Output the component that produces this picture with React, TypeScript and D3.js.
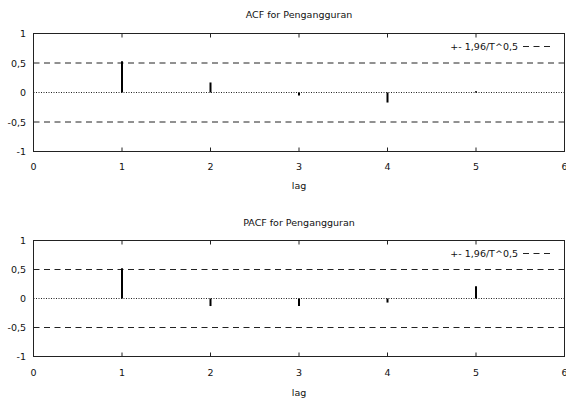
import React from 'react';
import * as d3 from 'd3';

const lags = [1, 2, 3, 4, 5];
const acfValues = [0.53, 0.17, -0.05, -0.17, 0.02];
const pacfValues = [0.52, -0.13, -0.13, -0.07, 0.21];
const xTicks = [0, 1, 2, 3, 4, 5, 6];
const yTicks = [1, 0.5, 0, -0.5, -1];
const band = 0.5;
const legendLabel = '+- 1,96/T^0,5';

const W = 566;
const H = 399;
const font = 'DejaVu Sans, Verdana, sans-serif';
const fs = 9.5;

const fmt = (v: number) => String(v).replace('.', ',');

type PanelProps = { title: string; values: number[]; top: number; bottom: number; titleY: number; tickY: number; lagY: number };

const Panel = ({ title, values, top, bottom, titleY, tickY, lagY }: PanelProps) => {
    const x = d3.scaleLinear().domain([0, 6]).range([33.5, 564.5]);
    const y = d3.scaleLinear().domain([-1, 1]).range([bottom, top]);
    return (
        <g>
            <text x={(x(0) + x(6)) / 2} y={titleY} fontSize={fs} textAnchor="middle" fill="#111">{title}</text>
            {/* dashed confidence band */}
            {[band, -band].map(b => (
                <line key={b} x1={x(0)} x2={x(6)} y1={y(b)} y2={y(b)} stroke="#222" strokeWidth={1} strokeDasharray="6,4.5" />
            ))}
            <line x1={x(0)} x2={x(6)} y1={y(0)} y2={y(0)} stroke="#222" strokeWidth={1} strokeDasharray="1,1.5" />
            {/* bars */}
            {lags.map((l, i) => (
                <line key={l} x1={x(l)} x2={x(l)} y1={y(0)} y2={y(values[i])} stroke="#000" strokeWidth={2} />
            ))}
            {/* x ticks top and bottom */}
            {xTicks.slice(1, -1).map(t => (
                <g key={t}>
                    <line x1={x(t)} x2={x(t)} y1={top} y2={top + 4} stroke="#222" />
                    <line x1={x(t)} x2={x(t)} y1={bottom} y2={bottom - 4} stroke="#222" />
                </g>
            ))}
            <rect x={x(0)} y={top} width={x(6) - x(0)} height={bottom - top} fill="none" stroke="#222" strokeWidth={1} />
            {xTicks.map(t => (
                <text key={t} x={x(t)} y={tickY} fontSize={fs} textAnchor="middle" fill="#111">{t}</text>
            ))}
            {yTicks.map(t => (
                <text key={t} x={26} y={y(t) + 3.5} fontSize={fs} textAnchor="end" fill="#111">{fmt(t)}</text>
            ))}
            <text x={(x(0) + x(6)) / 2} y={lagY} fontSize={fs} textAnchor="middle" fill="#111">lag</text>
            {/* legend */}
            <text x={518} y={top + 16} fontSize={fs} textAnchor="end" fill="#111">{legendLabel}</text>
            <line x1={523} x2={551} y1={top + 13} y2={top + 13} stroke="#222" strokeDasharray="6,4.5" />
        </g>
    );
};

const App = () => (
    <svg width={W} height={H} style={{ position: 'absolute', left: 0, top: 0, fontFamily: font }}>
        <rect width={W} height={H} fill="#fff" />
        <Panel title="ACF for Pengangguran" values={acfValues} top={33.5} bottom={151.5} titleY={18} tickY={169.5} lagY={189} />
        <Panel title="PACF for Pengangguran" values={pacfValues} top={240.5} bottom={356.5} titleY={226} tickY={376} lagY={395.5} />
    </svg>
);

export default App;
